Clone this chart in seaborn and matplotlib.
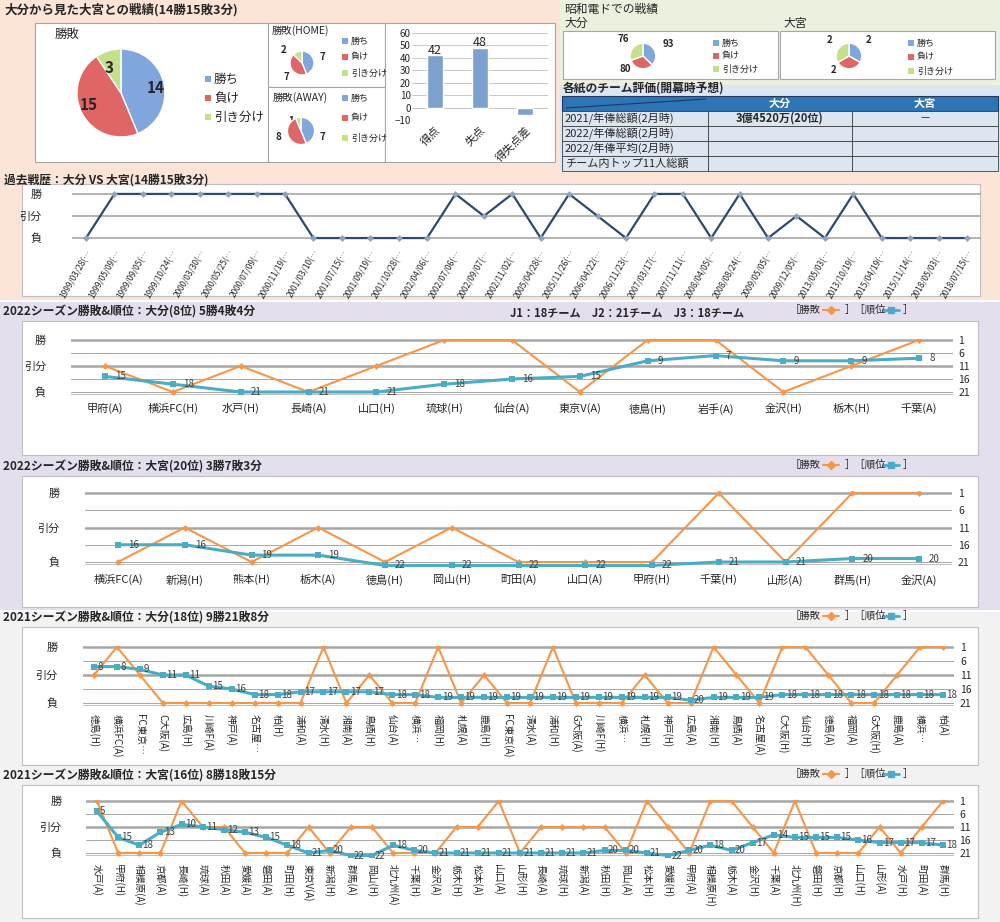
import numpy as np
import pandas as pd
import matplotlib
matplotlib.use("Agg")
import matplotlib.pyplot as plt
from matplotlib.patches import Rectangle
import seaborn as sns

sns.set_theme(style="white")
plt.rcParams["font.family"] = ["Noto Sans CJK JP", "DejaVu Sans"]

# ---- data ----
pie_labels = ["勝ち", "負け", "引き分け"]
total_wdl = [14, 15, 3]
home_wdl = [7, 7, 2]
away_wdl = [7, 8, 1]
goal_labels = ["得点", "失点", "得失点差"]
goal_values = [42, 48, -6]
showa_oita = [93, 80, 76]
showa_omiya = [2, 2, 2]

table_rows = ["2021/年俸総額(2月時)", "2022/年俸総額(2月時)", "2022/年俸平均(2月時)", "チーム内トップ11人総額"]
table_oita = ["3億4520万(20位)", "", "", ""]
table_omiya = ["－", "", "", ""]

hist_dates = ["1999/03/28", "1999/05/09", "1999/09/05", "1999/10/24", "2000/03/30", "2000/05/25",
              "2000/07/09", "2000/11/19", "2001/03/10", "2001/07/15", "2001/09/19", "2001/10/28",
              "2002/04/06", "2002/07/06", "2002/09/07", "2002/11/02", "2005/04/28", "2005/11/26",
              "2006/04/22", "2006/11/23", "2007/03/17", "2007/11/11", "2008/04/05", "2008/08/24",
              "2009/05/05", "2009/12/05", "2013/05/03", "2013/10/19", "2015/04/19", "2015/11/14",
              "2018/05/03", "2018/07/15"]
hist_res = list("LWWWWWWWLLLLLWDWLWDLWWLWLDLWLLLL")

oita22_opp = ["甲府(A)", "横浜FC(H)", "水戸(H)", "長崎(A)", "山口(H)", "琉球(H)", "仙台(A)",
              "東京V(A)", "徳島(H)", "岩手(A)", "金沢(H)", "栃木(H)", "千葉(A)"]
oita22_res = list("DLDLDWWLWWLDW")
oita22_rank = [15, 18, 21, 21, 21, 18, 16, 15, 9, 7, 9, 9, 8]

omiya22_opp = ["横浜FC(A)", "新潟(H)", "熊本(H)", "栃木(A)", "徳島(H)", "岡山(H)", "町田(A)",
               "山口(A)", "甲府(H)", "千葉(H)", "山形(A)", "群馬(H)", "金沢(A)"]
omiya22_res = list("LDLDLDLLLWLWW")
omiya22_rank = [16, 16, 19, 19, 22, 22, 22, 22, 22, 21, 21, 20, 20]

oita21_opp = ["徳島(H)", "横浜FC(A)", "FC東京…", "C大阪(A)", "広島(H)", "川崎F(A)", "神戸(A)",
              "名古屋…", "柏(H)", "浦和(A)", "清水(H)", "湘南(A)", "鳥栖(H)", "仙台(A)", "横浜…",
              "福岡(H)", "札幌(A)", "鹿島(H)", "FC東京(A)", "清水(A)", "浦和(H)", "G大阪(A)",
              "川崎F(H)", "横浜…", "札幌(H)", "神戸(H)", "広島(A)", "湘南(H)", "鳥栖(A)",
              "名古屋(A)", "C大阪(H)", "仙台(H)", "徳島(A)", "福岡(A)", "G大阪(H)", "鹿島(A)",
              "横浜…", "柏(A)"]
oita21_res = list("DWDLLLLLLLWLDLLWLDLLWLLLDLLWDLWWDLLDWW")
oita21_rank = [8, 8, 9, 11, 11, 15, 16, 18, 18, 17, 17, 17, 17, 18, 18, 19, 19, 19, 19, 19, 19,
               19, 19, 19, 19, 19, 20, 19, 19, 19, 18, 18, 18, 18, 18, 18, 18, 18]

omiya21_opp = ["水戸(A)", "甲府(H)", "相模原(A)", "京都(A)", "長崎(H)", "琉球(A)", "秋田(A)",
               "愛媛(A)", "磐田(A)", "町田(H)", "東京V(A)", "新潟(H)", "群馬(A)", "岡山(H)",
               "北九州(A)", "千葉(H)", "金沢(A)", "栃木(H)", "松本(A)", "山口(A)", "山形(H)",
               "長崎(A)", "琉球(H)", "新潟(A)", "秋田(H)", "岡山(A)", "松本(H)", "愛媛(H)",
               "甲府(A)", "相模原(H)", "栃木(A)", "金沢(H)", "千葉(A)", "北九州(H)", "磐田(H)",
               "京都(H)", "山口(H)", "山形(A)", "水戸(H)", "町田(A)", "群馬(H)"]
omiya21_res = list("WLLLWDDLLLDLDDLLLDDWLDDDDLWDLWWDLWLLLDLDW")
omiya21_rank = [5, 15, 18, 13, 10, 11, 12, 13, 15, 18, 21, 20, 22, 22, 18, 20, 21, 21, 21, 21, 21,
                21, 21, 21, 20, 20, 21, 22, 20, 18, 20, 17, 14, 15, 15, 15, 16, 17, 17, 17, 18]

# ---- style ----
W, H = 1000, 922
PIE_COLORS = ["#7FA7DE", "#E06666", "#C5E08A"]
ORANGE = "#F79646"
CYAN = "#4BACC6"
RES_Y = {"W": 1, "D": 11, "L": 21}

fig = plt.figure(figsize=(10, 9.22), dpi=100)
bg = fig.add_axes([0, 0, 1, 1])
bg.set_xlim(0, W)
bg.set_ylim(H, 0)
bg.axis("off")


def box(x0, y0, x1, y1):
    return [x0 / W, 1 - y1 / H, (x1 - x0) / W, (y1 - y0) / H]


def rect(x0, y0, x1, y1, fc, ec="none", lw=0.8):
    bg.add_patch(Rectangle((x0, y0), x1 - x0, y1 - y0, fc=fc, ec=ec, lw=lw))


def legend(x, y, dy, fs):
    for i, (lab, c) in enumerate(zip(pie_labels, PIE_COLORS)):
        bg.add_patch(Rectangle((x, y + i * dy - 3), 6, 6, fc=c, ec="none"))
        bg.text(x + 9, y + i * dy, lab, fontsize=fs, va="center")


# section backgrounds
rect(0, 0, 560, 170, "#FCE4D6")
rect(560, 0, 1000, 85, "#EBF1DE")
rect(560, 85, 1000, 175, "#DCE6F1")
rect(0, 170, 1000, 300, "#FCE4D6")
rect(0, 300, 1000, 610, "#E4DFEC")
rect(0, 610, 1000, 922, "#F2F2F2")
for y0, y1 in [(300, 302), (610, 612)]:
    rect(0, y0, 1000, y1, "#FFFFFF")

# ---- top left: overall record ----
bg.text(4, 10, "大分から見た大宮との戦績(14勝15敗3分)", fontsize=9, fontweight="bold", va="center")
rect(35, 23, 268, 162, "white", "#A6A6A6")
rect(268, 23, 385, 87, "white", "#A6A6A6")
rect(268, 87, 385, 162, "white", "#A6A6A6")
rect(385, 23, 555, 162, "white", "#A6A6A6")

ax = fig.add_axes(box(66, 38, 176, 148))
ax.pie(total_wdl, colors=PIE_COLORS, startangle=90, counterclock=False,
       labels=[str(v) for v in total_wdl], labeldistance=0.6,
       textprops=dict(fontsize=11, fontweight="bold"))
bg.text(55, 34, "勝敗", fontsize=9, va="center")
legend(205, 79, 19, 9)

ax = fig.add_axes(box(287, 48, 317, 78))
ax.pie(home_wdl, colors=PIE_COLORS, startangle=90, counterclock=False)
bg.text(272, 34, "勝敗(HOME)", fontsize=7.5)
bg.text(320, 60, "7", fontsize=7, fontweight="bold")
bg.text(284, 80, "7", fontsize=7, fontweight="bold")
bg.text(281, 53, "2", fontsize=7, fontweight="bold")
legend(342, 41, 16, 6.5)

ax = fig.add_axes(box(284, 114, 318, 148))
ax.pie(away_wdl, colors=PIE_COLORS, startangle=90, counterclock=False)
bg.text(273, 101, "勝敗(AWAY)", fontsize=7.5)
bg.text(320, 140, "7", fontsize=7, fontweight="bold")
bg.text(276, 140, "8", fontsize=7, fontweight="bold")
bg.text(288, 124, "1", fontsize=7, fontweight="bold")
legend(342, 98, 20, 6.5)

ax = fig.add_axes(box(412, 33, 548, 120))
df_goal = pd.DataFrame({"label": goal_labels, "value": goal_values})
sns.barplot(data=df_goal, x="label", y="value", ax=ax, color="#6FA0DC", width=0.35)
ax.set_ylim(-10, 60)
ax.set_yticks(range(-10, 61, 10))
ax.tick_params(axis="y", labelsize=7, length=0, pad=1)
ax.tick_params(axis="x", labelsize=8, length=0, rotation=45)
for lab in ax.get_xticklabels():
    lab.set_ha("right")
    lab.set_rotation_mode("anchor")
ax.set_xlabel("")
ax.set_ylabel("")
ax.yaxis.grid(True, color="#BFBFBF", lw=0.6)
sns.despine(ax=ax, left=True, bottom=True)
for i, v in enumerate(goal_values):
    if v > 0:
        ax.text(i, v + 1.5, str(v), ha="center", fontsize=9)

# ---- top right: Showa Denko record ----
bg.text(564, 9, "昭和電ドでの戦績", fontsize=8.5, va="center")
bg.text(564, 23, "大分", fontsize=8.5, va="center")
bg.text(783, 23, "大宮", fontsize=8.5, va="center")
rect(563, 31, 778, 79, "white", "#A6A6A6")
rect(780, 31, 995, 79, "white", "#A6A6A6")
ax = fig.add_axes(box(626, 40, 660, 72))
ax.pie(showa_oita, colors=PIE_COLORS, startangle=90, counterclock=False)
bg.text(663, 47, "93", fontsize=7, fontweight="bold")
bg.text(617, 42, "76", fontsize=7, fontweight="bold")
bg.text(620, 72, "80", fontsize=7, fontweight="bold")
legend(713, 43, 13, 6.5)
ax = fig.add_axes(box(832, 40, 866, 72))
ax.pie(showa_omiya, colors=PIE_COLORS, startangle=90, counterclock=False)
bg.text(866, 43, "2", fontsize=7, fontweight="bold")
bg.text(827, 43, "2", fontsize=7, fontweight="bold")
bg.text(831, 73, "2", fontsize=7, fontweight="bold")
legend(908, 43, 14, 6.5)

# team evaluation table
bg.text(563, 88, "各紙のチーム評価(開幕時予想)", fontsize=8.5, fontweight="bold", va="center")
cols = [562, 708, 852, 998]
rect(cols[0], 96, cols[3], 111, "#2E75B6", "#1F3864")
bg.plot([cols[0] + 4, cols[1] - 2], [108, 99], color="#1F3864", lw=0.8)
bg.text((cols[1] + cols[2]) / 2, 103, "大分", color="white", fontsize=8, fontweight="bold", ha="center", va="center")
bg.text((cols[2] + cols[3]) / 2, 103, "大宮", color="white", fontsize=8, fontweight="bold", ha="center", va="center")
for i, (r, a, b) in enumerate(zip(table_rows, table_oita, table_omiya)):
    y0 = 111 + i * 15
    for c0, c1 in zip(cols[:-1], cols[1:]):
        rect(c0, y0, c1, y0 + 15, "#DCE6F1", "#404040", 0.6)
    bg.text(cols[0] + 3, y0 + 7.5, r, fontsize=8, va="center")
    bg.text((cols[1] + cols[2]) / 2, y0 + 7.5, a, fontsize=8, fontweight="bold", ha="center", va="center")
    bg.text((cols[2] + cols[3]) / 2, y0 + 7.5, b, fontsize=8, ha="center", va="center")

# ---- history ----
bg.text(4, 180, "過去戦歴：大分 VS 大宮(14勝15敗3分)", fontsize=8.5, fontweight="bold", va="center")
rect(22, 184, 980, 296, "white", "#BFBFBF")
n = len(hist_dates)
sp = (967 - 86) / (n - 1)
ax = fig.add_axes(box(86 - sp / 2, 194 - 6, 967 + sp / 2, 238 + 6))
hy = [{"W": 2, "D": 1, "L": 0}[r] for r in hist_res]
sns.lineplot(x=np.arange(n), y=hy, ax=ax, color="#2E4A6B", lw=1.6, marker="D",
             markersize=3.5, markerfacecolor="#8FA3BF", markeredgewidth=0)
ax.set_xlim(-0.5, n - 0.5)
ax.set_ylim(-0.27, 2.27)
for yv in [0, 1, 2]:
    ax.axhline(yv, color="#A6A6A6", lw=1.2, zorder=0)
ax.set_yticks([0, 1, 2])
ax.set_yticklabels(["負", "引分", "勝"], fontsize=8)
ax.set_xticks(np.arange(n))
ax.set_xticklabels([d + "(…" for d in hist_dates], fontsize=6, rotation=60, ha="right",
                   rotation_mode="anchor")
ax.tick_params(length=0, pad=3)
ax.tick_params(axis="y", pad=22)
ax.set_xlabel("")
sns.despine(ax=ax, left=True, bottom=True)
ax.patch.set_alpha(0)


def legend_tag(x, y):
    bg.text(x, y, "［勝敗", fontsize=7.5, va="center")
    bg.plot([x + 33, x + 49], [y, y], color=ORANGE, lw=1.5)
    bg.plot([x + 41], [y], marker="D", color=ORANGE, ms=4)
    bg.text(x + 55, y, "］［順位", fontsize=7.5, va="center")
    bg.plot([x + 93, x + 109], [y, y], color=CYAN, lw=2)
    bg.plot([x + 101], [y], marker="s", color=CYAN, ms=4)
    bg.text(x + 113, y, "］", fontsize=7.5, va="center")


def season(title, frame, opp, res, rank, x_first, x_last, y1, y21, rot, fs):
    fx0, fy0, fx1, fy1 = frame
    bg.text(3, fy0 - 9, title, fontsize=8.5, fontweight="bold", va="center")
    legend_tag(790, fy0 - 11)
    rect(fx0, fy0, fx1, fy1, "white", "#BFBFBF")
    n = len(opp)
    sp = (x_last - x_first) / (n - 1)
    s = (y21 - y1) / 20
    ax = fig.add_axes(box(x_first - sp / 2, y1 - 0.5 * s, x_last + sp / 2, y21 + 1.5 * s))
    x = np.arange(n)
    for yv, lw in [(1, 1.8), (6, 0.7), (11, 1.8), (16, 0.7), (21, 0.7)]:
        ax.axhline(yv, color="#A6A6A6", lw=lw, zorder=0)
    ax.axhline(21.6, color="#BFBFBF", lw=0.7, zorder=0)
    sns.lineplot(x=x, y=[RES_Y[r] for r in res], ax=ax, color=ORANGE, lw=1.5, marker="D",
                 markersize=3.5, markeredgewidth=0)
    sns.lineplot(x=x, y=rank, ax=ax, color=CYAN, lw=2.2, marker="s", markersize=4.5,
                 markeredgewidth=0)
    for xi, r in zip(x, rank):
        ax.text(xi + 0.15, r, str(r), fontsize=7, va="center", ha="left", color="#404040")
    ax.set_xlim(-0.5, n - 0.5)
    ax.set_ylim(22.5, 0.5)
    ax.set_yticks([1, 11, 21])
    ax.set_yticklabels(["勝", "引分", "負"], fontsize=8)
    ax.tick_params(axis="y", length=0, pad=18)
    ax.set_xticks(x)
    if rot:
        ax.set_xticklabels(opp, fontsize=fs, rotation=270, va="top", ha="center")
    else:
        ax.set_xticklabels(opp, fontsize=fs)
    ax.tick_params(axis="x", length=0, pad=5)
    ax.set_xlabel("")
    ax.set_ylabel("")
    sns.despine(ax=ax, left=True, bottom=True)
    ax.patch.set_alpha(0)
    ax2 = ax.twinx()
    ax2.set_ylim(22.5, 0.5)
    ax2.set_yticks([1, 6, 11, 16, 21])
    ax2.tick_params(axis="y", labelsize=7.5, length=0, pad=4)
    sns.despine(ax=ax2, left=True, bottom=True, right=True)
    return ax


season("2022シーズン勝敗&順位：大分(8位) 5勝4敗4分", (22, 321, 978, 455),
       oita22_opp, oita22_res, oita22_rank, 105, 919, 340, 392, False, 8)
bg.text(510, 313, "J1：18チーム　J2：21チーム　J3：18チーム", fontsize=8, fontweight="bold", va="center")
season("2022シーズン勝敗&順位：大宮(20位) 3勝7敗3分", (22, 476, 978, 607),
       omiya22_opp, omiya22_res, omiya22_rank, 118, 919, 493, 562, False, 8)
season("2021シーズン勝敗&順位：大分(18位) 9勝21敗8分", (22, 627, 978, 765),
       oita21_opp, oita21_res, oita21_rank, 94, 943, 647, 703, True, 7)
season("2021シーズン勝敗&順位：大宮(16位) 8勝18敗15分", (22, 785, 978, 918),
       omiya21_opp, omiya21_res, omiya21_rank, 97, 943, 801, 853, True, 7)

fig.savefig("out.png", dpi=100)
